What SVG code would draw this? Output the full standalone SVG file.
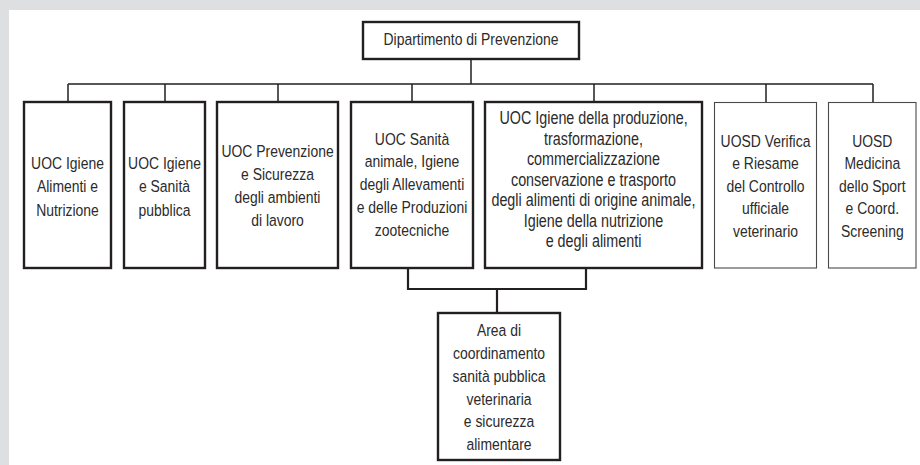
<svg xmlns="http://www.w3.org/2000/svg" width="920" height="465" viewBox="0 0 920 465">
<style>
.bg{fill:#dedfe1}
.panel{fill:#ffffff}
.box{fill:#ffffff;stroke:#231f20;stroke-width:2.4}
.thin{fill:#ffffff;stroke:#4a4a4a;stroke-width:1.1}
.conn{fill:none;stroke:#231f20;stroke-width:1.5}
.bracket{fill:none;stroke:#231f20;stroke-width:2.2}
text{font-family:"Liberation Sans",Arial,sans-serif;font-size:17px;fill:#2b2b2b;text-anchor:middle}
.big{font-size:17.5px}
</style>
<rect class="bg" x="0" y="0" width="920" height="465"/>
<rect class="panel" x="9" y="10" width="911" height="455"/>
<g id="connectors">
<path class="conn" d="M471 59 V84 M68 84 H873 M68 84 V102 M165 84 V102 M278 84 V102 M412 84 V102 M594 84 V102 M766 84 V102 M873 84 V102"/>
<path class="bracket" d="M408 268 V289 H586 V268 M497 289 V313"/>
</g>
<g id="dipartimento">
<rect class="box" x="363" y="22" width="216" height="37"/>
<g transform="translate(471 0) scale(0.82 1)">
<text x="0" y="45">Dipartimento di Prevenzione</text>
</g>
</g>
<g id="uoc-igiene-alimenti">
<rect class="box" x="24" y="102" width="87" height="166"/>
<g transform="translate(67.5 0) scale(0.82 1)">
<text x="0" y="169">UOC Igiene</text>
<text x="0" y="192.5">Alimenti e</text>
<text x="0" y="216">Nutrizione</text>
</g>
</g>
<g id="uoc-igiene-sanita">
<rect class="box" x="124" y="102" width="81" height="166"/>
<g transform="translate(164.5 0) scale(0.82 1)">
<text x="0" y="169">UOC Igiene</text>
<text x="0" y="192.5">e Sanità</text>
<text x="0" y="216">pubblica</text>
</g>
</g>
<g id="uoc-prevenzione">
<rect class="box" x="217" y="102" width="121" height="166"/>
<g transform="translate(277.5 0) scale(0.82 1)">
<text x="0" y="157">UOC Prevenzione</text>
<text x="0" y="180">e Sicurezza</text>
<text x="0" y="203">degli ambienti</text>
<text x="0" y="226">di lavoro</text>
</g>
</g>
<g id="uoc-sanita-animale">
<rect class="box" x="351" y="102" width="122" height="166"/>
<g transform="translate(412 0) scale(0.82 1)">
<text x="0" y="145">UOC Sanità</text>
<text x="0" y="167.5">animale, Igiene</text>
<text x="0" y="190.5">degli Allevamenti</text>
<text x="0" y="213">e delle Produzioni</text>
<text x="0" y="236">zootecniche</text>
</g>
</g>
<g id="uoc-igiene-produzione">
<rect class="box" x="485" y="102" width="217" height="166"/>
<g transform="translate(593.5 0) scale(0.82 1)">
<text class="big" x="0" y="124.3">UOC Igiene della produzione,</text>
<text class="big" x="0" y="145">trasformazione,</text>
<text class="big" x="0" y="165.5">commercializzazione</text>
<text class="big" x="0" y="186">conservazione e trasporto</text>
<text class="big" x="0" y="206.5">degli alimenti di origine animale,</text>
<text class="big" x="0" y="227">Igiene della nutrizione</text>
<text class="big" x="0" y="247.5">e degli alimenti</text>
</g>
</g>
<g id="uosd-verifica">
<rect class="thin" x="714.5" y="102.5" width="102" height="165.5"/>
<g transform="translate(765.5 0) scale(0.82 1)">
<text x="0" y="146.7">UOSD Verifica</text>
<text x="0" y="169.2">e Riesame</text>
<text x="0" y="191.7">del Controllo</text>
<text x="0" y="214.2">ufficiale</text>
<text x="0" y="236.7">veterinario</text>
</g>
</g>
<g id="uosd-medicina">
<rect class="thin" x="828.5" y="102.5" width="87.5" height="165.5"/>
<g transform="translate(872.3 0) scale(0.82 1)">
<text x="0" y="146.7">UOSD</text>
<text x="0" y="169.2">Medicina</text>
<text x="0" y="191.7">dello Sport</text>
<text x="0" y="214.2">e Coord.</text>
<text x="0" y="236.7">Screening</text>
</g>
</g>
<g id="area-coordinamento">
<rect class="box" x="438" y="313" width="122" height="147"/>
<g transform="translate(499 0) scale(0.82 1)">
<text x="0" y="336">Area di</text>
<text x="0" y="359">coordinamento</text>
<text x="0" y="381.8">sanità pubblica</text>
<text x="0" y="404.6">veterinaria</text>
<text x="0" y="427.4">e sicurezza</text>
<text x="0" y="450">alimentare</text>
</g>
</g>
</svg>
